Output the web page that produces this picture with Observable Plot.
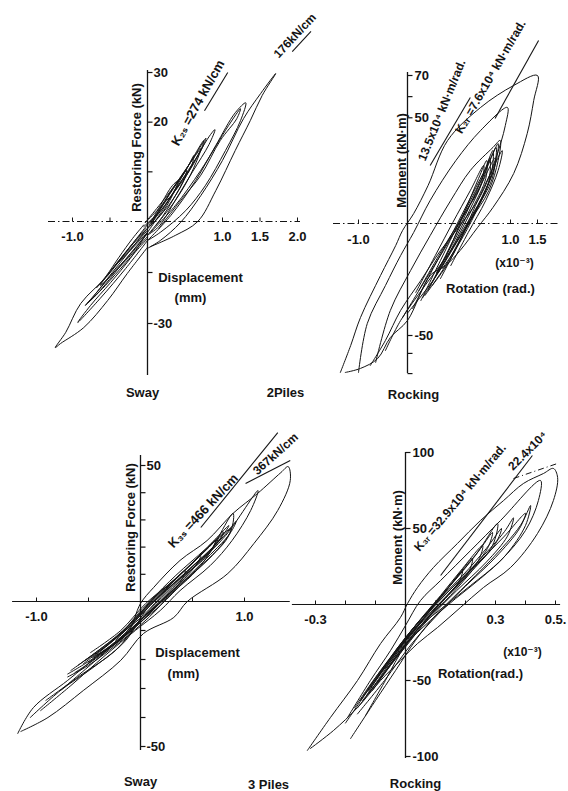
<!DOCTYPE html>
<html><head><meta charset="utf-8">
<script src="https://cdn.jsdelivr.net/npm/d3@7"></script>
<script src="https://cdn.jsdelivr.net/npm/@observablehq/plot@0.6"></script>
<style>
html,body{margin:0;padding:0;background:#fff;}
#page{position:relative;width:568px;height:791px;overflow:hidden;background:#fff;}
#page svg{position:absolute;overflow:visible;background:transparent;}
</style></head><body><div id="page"></div>
<script>
// ---------------- DATA ----------------
// Panel 1: Sway, 2 piles  (x: displacement mm, y: restoring force kN)
const sway2Loops = [
  [[0,-7.9],[0.17,-5.6],[0.44,-0.3],[0.71,5.2],[1.0,12.3],[1.28,20.7],[1.51,25.8],[1.71,29.8],[1.53,25.4],[1.37,20.3],[1.17,14.3],[0.91,6.2],[0.67,0],[0.37,-4.1],[0.04,-7.4]],
  [[0,-5.6],[0.31,1.2],[0.64,8.2],[0.91,15.3],[1.17,21.9],[1.31,23.9],[1.24,20.3],[1.04,14.3],[0.77,7.2],[0.51,2.2],[0.17,-3.2],[0,-5.6]],
  [[0.04,-3.2],[0.37,3.2],[0.71,10.3],[1.08,19.3],[1.24,22.7],[1.19,20.7],[0.97,16.3],[0.71,9.3],[0.44,4.2],[0.15,-2.1]],
  [[0,-3.2],[0.24,3.2],[0.51,10.3],[0.75,16.3],[0.71,14.3],[0.57,9.3],[0.37,4.2],[0.11,-1.2]],
  [[0,-2.1],[0.17,3.2],[0.33,7.2],[0.41,8.2],[0.33,5.2],[0.17,1.2],[0,-2.1]],
  [[0.04,-1.2],[0.24,4.2],[0.44,8.7],[0.52,10.3],[0.47,7.8],[0.28,3.2],[0.04,-1.2]],
  [[-0.03,-0.3],[0.31,6.2],[0.64,13.3],[0.71,14.7],[0.64,12.3],[0.37,6.2],[-0.03,-0.3]],
  [[0.05,-0.5],[0.2,3.5],[0.4,8],[0.6,12.5],[0.78,16.8],[0.72,14.5],[0.55,10.5],[0.35,5.8],[0.12,1],[0.05,-0.5]],
  [[-0.05,-1.5],[0.15,2],[0.33,6.5],[0.5,10],[0.62,13.3],[0.58,11],[0.42,7.5],[0.22,3],[0,-1]],
  [[0,-4],[0.2,1],[0.42,6.5],[0.62,12],[0.84,17.5],[0.9,18.5],[0.82,15.5],[0.6,10],[0.38,4.5],[0.15,-1.5],[0,-4]],
  [[0,-7.6],[-0.27,-15.3],[-0.53,-23.2],[-0.85,-31.2],[-1.16,-35.9],[-1.23,-37.1],[-1.09,-32.6],[-0.89,-24.1],[-0.53,-15.9],[-0.27,-8.5],[0,-0.9]],
  [[0,-5.6],[-0.29,-13.8],[-0.63,-22.6],[-0.93,-29.7],[-0.76,-24.7],[-0.49,-17.9],[-0.23,-10.9],[0,-3.2]],
  [[0,-5],[-0.29,-12.1],[-0.56,-18.8],[-0.83,-24.7],[-0.69,-21.2],[-0.43,-14.4],[-0.16,-7.9],[0,-3.2]],
  [[0,-3.2],[-0.23,-8.5],[-0.43,-12.9],[-0.29,-9.1],[-0.09,-4.1],[0,-2.1]],
  [[0,-4.4],[-0.29,-11.5],[-0.63,-18.8],[-0.43,-12.9],[-0.16,-6.5],[0,-2.6]],
  [[-0.05,-1],[-0.2,-5],[-0.38,-10.5],[-0.55,-16],[-0.68,-19.5],[-0.6,-17.5],[-0.4,-12],[-0.2,-6.5],[-0.02,-2]],
  [[-0.02,-2.5],[-0.25,-9],[-0.47,-15],[-0.72,-22],[-0.8,-24],[-0.68,-21.5],[-0.45,-15.5],[-0.22,-9.2],[0,-3.5]]
];
const sway2XTicks = [-1, -0.5, 1, 1.5, 2];
const sway2XLabelVals = [-1, 1, 1.5, 2];
const sway2XLabels = ["-1.0", "1.0", "1.5", "2.0"];
const sway2YTicks = [30, 20, 10, -15, -30];
const sway2YLabelVals = [30, 20, -30];
const sway2YLabels = ["30", "20", "-30"];
const sway2K = [{x1: 0.76, y1: 22.3, x2: 1.07, y2: 30}, {x1: 1.93, y1: 34.2, x2: 2.18, y2: 38.3}];

// Panel 2: Rocking, 2 piles (x: rotation x10^-3 rad, y: moment kN·m)
const rock2Loops = [
  [[-1.37,-66.5],[-1.16,-54.5],[-0.96,-42],[-0.55,-23.2],[-0.24,-9.8],[-0.1,-3.1],[0.06,4.7],[0.2,18],[0.39,39.3],[0.71,54.9],[1.06,65.3],[1.5,70],[1.43,58.2],[1.31,42.6],[1.06,23.7],[0.83,7.6],[0.68,-1.8],[0.51,-12.1],[0.37,-18.8],[0.22,-23.2],[0,-43.3],[-0.35,-50.9],[-0.61,-60.3],[-0.96,-64.7],[-1.27,-66.5]],
  [[-1.0,-66.5],[-0.82,-44.6],[-0.45,-27.7],[-0.14,-14.3],[0.06,-4],[0.22,10.9],[0.47,29.8],[0.71,44],[0.97,54.9],[0.95,46.4],[0.85,29.8],[0.71,13.2],[0.51,-0.9],[0.32,-12.1],[0.13,-25.4],[-0.14,-38.8],[-0.45,-52.2],[-0.76,-63.4]],
  [[-0.65,-62],[-0.35,-38.8],[0.03,-21],[0.22,-5.4],[0.42,10.9],[0.61,25.1],[0.83,36],[0.9,39.3],[0.88,29.8],[0.79,15.6],[0.61,1.4],[0.42,-12.1],[0.17,-27.7],[-0.14,-43.3],[-0.45,-56.7]],
  [[0.13,-34.4],[0.32,-16.5],[0.51,1.4],[0.71,20.3],[0.83,34.5],[0.81,22.7],[0.69,8.5],[0.53,-5.4],[0.37,-18.8],[0.17,-32.1]],
  [[0.2,-29.9],[0.37,-14.3],[0.56,3.8],[0.76,25.1],[0.88,37.8],[0.85,27.4],[0.73,13.2],[0.56,-3.1],[0.4,-17.4],[0.24,-27.7]],
  [[0.24,-26.3],[0.4,-12.1],[0.56,6.1],[0.69,21.3],[0.77,29.8],[0.76,21.3],[0.63,7.1],[0.47,-7.6],[0.3,-21.9]],
  [[0.08,-30.8],[0.27,-14.3],[0.44,0.5],[0.61,15.6],[0.74,27.4],[0.71,18],[0.56,5.2],[0.39,-7.6],[0.22,-21],[0.11,-29.9]],
  [[0.32,-24.6],[0.5,-8.5],[0.66,8.5],[0.81,24.1],[0.92,34.5],[0.88,25.1],[0.76,10.9],[0.59,-4],[0.42,-18.8]],
  [[0.05,-38],[0.25,-20],[0.45,-3],[0.62,13],[0.78,28],[0.86,36],[0.84,26],[0.72,12],[0.55,-2],[0.36,-17],[0.15,-33]],
  [[-0.1,-42],[0.15,-27],[0.35,-12],[0.55,4],[0.72,19],[0.85,31],[0.82,21],[0.66,6],[0.47,-9],[0.27,-24],[0,-40]],
  [[0.28,-22],[0.45,-8],[0.6,6],[0.73,20],[0.8,31],[0.79,20],[0.66,5],[0.5,-9],[0.34,-20]]
];
const rock2XTicks = [-1, 1, 1.5];
const rock2XLabelVals = [-1, 1, 1.5];
const rock2XLabels = ["-1.0", "1.0", "1.5"];
const rock2YTicks = [70, 60, 50, -50, -58, -67];
const rock2YLabelVals = [70, 50, -50];
const rock2YLabels = ["70", "50", "-50"];
const rock2K = [{x1: 0.22, y1: 27.4, x2: 0.61, y2: 59.6}, {x1: 0.85, y1: 49.7, x2: 1.52, y2: 86.6}];

// Panel 3: Sway, 3 piles
const sway3Loops = [
  [[-1.18,-45.5],[-1.03,-36.6],[-0.7,-27.2],[-0.38,-17.9],[-0.125,-11],[0,-0.7],[0.125,5.1],[0.38,15.1],[0.64,22.4],[0.89,32.4],[1.125,39.7],[1.35,47.4],[1.42,49.6],[1.44,44.5],[1.32,33.5],[1.09,21.3],[0.84,10.3],[0.45,0],[0.32,-5.5],[0.03,-11],[-0.19,-20.3],[-0.55,-30.7],[-0.89,-40],[-1.15,-44.8]],
  [[-1.06,-40],[-0.77,-30.7],[-0.43,-22.1],[-0.14,-13.4],[0.05,-3.1],[0.24,4],[0.53,13.2],[0.82,24.3],[1.13,40.8],[1.06,33.5],[0.88,22.4],[0.67,13.2],[0.38,4],[0.19,-3.1],[-0.05,-10],[-0.34,-18.6],[-0.67,-29],[-0.96,-37.6]],
  [[-0.91,-34.1],[-0.58,-25.5],[-0.24,-16.9],[0,-6.6],[0.24,1.1],[0.58,13.2],[0.89,32.4],[0.87,26.1],[0.69,16.9],[0.43,7.7],[0.19,-1.4],[-0.1,-10],[-0.43,-20.3],[-0.77,-30.7]],
  [[-0.67,-23.8],[-0.38,-16.2],[-0.1,-8.3],[0.1,0.4],[0.34,9.6],[0.63,19.5],[0.85,27.9],[0.79,24.3],[0.58,15.1],[0.34,5.9],[0.1,-3.8],[-0.14,-11.7],[-0.43,-19.7],[-0.63,-24.5]],
  [[-0.53,-20.3],[-0.24,-12.8],[0,-3.8],[0.24,4.8],[0.53,15.1],[0.72,22.4],[0.67,18],[0.43,9.6],[0.19,0.4],[-0.05,-8.3],[-0.31,-16.2],[-0.5,-21]],
  [[-0.38,-16.9],[-0.14,-9.3],[0.08,-1.4],[0.31,7],[0.58,16.9],[0.53,13.2],[0.29,3.3],[0.05,-4.8],[-0.19,-12.8],[-0.36,-17.6]],
  [[-0.24,-13.4],[0,-4.8],[0.19,2.2],[0.43,11.4],[0.38,7],[0.17,-0.7],[-0.05,-8.3],[-0.21,-13.4]],
  [[-0.48,-17.6],[-0.19,-10],[0.05,-0.7],[0.34,8.5],[0.67,20.6],[0.87,26.8],[0.82,22.4],[0.53,11.4],[0.24,1.5],[0,-7.2],[-0.27,-15.2],[-0.46,-19.3]],
  [[-0.6,-22],[-0.3,-14],[-0.05,-6],[0.15,2],[0.4,10.5],[0.66,20],[0.8,25.5],[0.74,21.5],[0.5,13],[0.25,4],[0.02,-5],[-0.25,-13],[-0.55,-21.5]],
  [[-0.45,-19],[-0.2,-11.5],[0.02,-2.5],[0.28,6.5],[0.55,16],[0.75,23.5],[0.7,20],[0.45,11],[0.2,1.5],[-0.02,-7],[-0.28,-15],[-0.42,-18.5]],
  [[-0.7,-25],[-0.45,-19.5],[-0.15,-11],[0.05,-2.5],[0.3,6],[0.6,16.5],[0.8,24],[0.92,29.5],[0.86,25],[0.6,14.5],[0.32,4],[0.08,-5.5],[-0.2,-14],[-0.5,-22],[-0.7,-26]]
];
const sway3XTicks = [-1, -0.5, 0.5, 1];
const sway3XLabelVals = [-1, 1];
const sway3XLabels = ["-1.0", "1.0"];
const sway3YTicks = [50, 40, 30, 20, 10, -10, -20, -30, -40, -50];
const sway3YLabelVals = [50, -50];
const sway3YLabels = ["50", "-50"];
const sway3K = [{x1: 0.58, y1: 27.2, x2: 1.32, y2: 62.1}, {x1: 1.01, y1: 43.4, x2: 1.44, y2: 51.8}];

// Panel 4: Rocking, 3 piles
const rock3Loops = [
  [[-0.327,-96],[-0.25,-74.3],[-0.16,-50],[-0.083,-25.7],[-0.017,-8.6],[0.007,0.7],[0.04,11.2],[0.093,24.3],[0.173,40.1],[0.25,55.3],[0.327,68.4],[0.393,79.6],[0.46,86.2],[0.493,89.5],[0.507,83.6],[0.493,68.4],[0.44,46.7],[0.35,24.3],[0.26,11.2],[0.183,-2],[0.107,-15.1],[0.04,-25.7],[-0.017,-36.8],[-0.083,-50],[-0.16,-67.8],[-0.24,-82.9],[-0.317,-94.7]],
  [[-0.193,-74.3],[-0.117,-50],[-0.05,-30.3],[0,-13.8],[0.05,2.6],[0.117,15.8],[0.217,35.5],[0.317,55.3],[0.45,81.6],[0.443,68.4],[0.4,48.7],[0.317,28.9],[0.217,12.5],[0.133,-0.7],[0.05,-13.8],[-0.017,-27],[-0.083,-43.4],[-0.15,-63.2]],
  [[-0.183,-88.2],[-0.1,-63.2],[-0.033,-43.4],[0.033,-23.7],[0.1,-7.2],[0.183,9.2],[0.283,28.9],[0.383,52],[0.417,65.1],[0.4,52],[0.333,32.2],[0.25,17.1],[0.167,3.9],[0.083,-10.5],[0,-27],[-0.067,-50],[-0.133,-73]],
  [[-0.15,-63.2],[-0.083,-44.7],[0,-23.7],[0.067,-7.2],[0.15,12.5],[0.233,32.2],[0.307,53.3],[0.29,38.8],[0.223,22.4],[0.15,5.9],[0.067,-10.5],[-0.017,-30.3],[-0.09,-50],[-0.143,-63.2]],
  [[-0.123,-56.6],[-0.05,-36.8],[0.017,-18.4],[0.09,-0.7],[0.177,19.1],[0.25,36.8],[0.29,47.4],[0.273,36.8],[0.2,19.1],[0.123,2.6],[0.043,-15.8],[-0.033,-35.5],[-0.11,-56.6]],
  [[-0.1,-50],[-0.033,-31.6],[0.033,-13.8],[0.117,5.9],[0.19,23.7],[0.257,38.8],[0.243,28.9],[0.17,12.5],[0.09,-5.3],[0.017,-23.7],[-0.05,-40.1],[-0.093,-51.3]],
  [[-0.067,-42.1],[0,-25],[0.077,-5.3],[0.157,14.5],[0.223,30.3],[0.21,21.1],[0.133,3.9],[0.05,-13.8],[-0.017,-30.3],[-0.06,-42.1]],
  [[-0.033,-30.3],[0.033,-13.8],[0.117,4.6],[0.19,22.4],[0.177,14.5],[0.1,-2],[0.023,-18.4],[-0.027,-30.3]],
  [[-0.13,-60],[-0.06,-38],[0.02,-17],[0.1,1],[0.19,19],[0.27,37],[0.32,50],[0.3,40],[0.22,22],[0.13,4],[0.04,-14],[-0.04,-35],[-0.12,-58]],
  [[-0.17,-68],[-0.1,-48],[-0.02,-28],[0.06,-9],[0.15,10],[0.25,30],[0.33,48],[0.36,57],[0.34,45],[0.27,28],[0.17,9],[0.08,-9],[-0.01,-29],[-0.09,-50],[-0.16,-68]],
  [[-0.2,-78],[-0.12,-55],[-0.04,-32],[0.05,-10],[0.14,8],[0.24,27],[0.33,45],[0.4,60],[0.38,50],[0.3,31],[0.2,12],[0.11,-6],[0.02,-26],[-0.07,-50],[-0.16,-72]]
];
const rock3XTicks = [-0.3, -0.2, -0.1, 0.1, 0.2, 0.3, 0.4, 0.5];
const rock3XLabelVals = [-0.3, 0.3, 0.5];
const rock3XLabels = ["-0.3", "0.3", "0.5."];
const rock3YTicks = [100, 50, -50, -100];
const rock3YLabelVals = [100, 50, -50, -100];
const rock3YLabels = ["100", "50", "-50", "-100"];
const rock3K = [{x1: 0.117, y1: 19.1, x2: 0.423, y2: 98}];
const rock3KDash = [{x1: 0.36, y1: 82.9, x2: 0.507, y2: 92.8}];

// Texts
const textsP1 = ["K₂ₛ =274 kN/cm", "176kN/cm", "Restoring Force (kN)", "Displacement", "(mm)", "Sway", "2Piles"];
const textsP2 = ["13.5x10⁴ kN·m/rad.", "K₂ᵣ =7.6x10⁴ kN·m/rad.", "Moment (kN·m)", "(x10⁻³)", "Rotation (rad.)", "Rocking"];
const textsP3 = ["K₃ₛ =466 kN/cm", "367kN/cm", "Restoring Force (kN)", "Displacement", "(mm)", "Sway", "3 Piles"];
const textsP4 = ["K₃ᵣ =32.9x10⁴ kN·m/rad.", "22.4x10⁴", "Moment (kN·m)", "(x10⁻³)", "Rotation(rad.)", "Rocking"];

// ---------------- DRAWING ----------------
const FONT = "'Liberation Sans', Arial, 'DejaVu Sans', sans-serif";
const INK = "#141414";
const tickUp = {draw(c) { c.moveTo(0, 0); c.lineTo(0, -4); }};
const tickRight = {draw(c) { c.moveTo(0, 0); c.lineTo(5, 0); }};

// The printed axes are not uniformly graduated (the graduation differs on each side
// of the origin); a piecewise-linear scale transform reproduces the printed axis.
function piecewise(values, offsets) {
  return d3.scaleLinear().domain(values).range(offsets);
}

function toTable(loops) {
  return loops.flatMap((pts, i) => pts.map(([x, y]) => ({loop: i, x, y})));
}

function panel(o) {
  const marks = [
    Plot.ruleY([0], {x1: o.xAxis[0], x2: o.xAxis[1], stroke: INK, strokeWidth: 1, strokeDasharray: o.xDash}),
    Plot.ruleX([0], {y1: o.yAxis[0], y2: o.yAxis[1], stroke: INK, strokeWidth: 1.3}),
    Plot.dot(o.xTicks, {x: d => d, y: 0, symbol: tickUp, stroke: INK, fill: "none", strokeWidth: 1}),
    Plot.dot(o.yTicks, {x: 0, y: d => d, symbol: tickRight, stroke: INK, fill: "none", strokeWidth: 1.2}),
    Plot.line(toTable(o.loops), {x: "x", y: "y", z: "loop", stroke: INK, strokeWidth: 1, curve: "catmull-rom"}),
    Plot.link(o.k, {x1: "x1", y1: "y1", x2: "x2", y2: "y2", stroke: INK, strokeWidth: 1.1}),
    Plot.text(o.xLabelVals, {x: d => d, y: 0, text: (d, i) => o.xLabels[i], dy: o.xLabelDy, fontSize: 13, fontWeight: "bold", fill: INK, textAnchor: "middle"}),
    Plot.text(o.yLabelVals, {x: 0, y: d => d, text: (d, i) => o.yLabels[i], dx: o.yLabelDx, fontSize: 13, fontWeight: "bold", fill: INK, textAnchor: "start"})
  ];
  if (o.kDash) marks.push(Plot.link(o.kDash, {x1: "x1", y1: "y1", x2: "x2", y2: "y2", stroke: INK, strokeWidth: 1, strokeDasharray: "6,3,1,3"}));
  o.texts.forEach((t, i) => {
    const L = o.textLayout[i];
    marks.push(Plot.text([t], {frameAnchor: "top-left", dx: L[0], dy: L[1], rotate: L[2], text: d => d,
      fontSize: L[3], fontWeight: "bold", fill: INK, textAnchor: "middle"}));
  });
  const xs = {domain: o.xDomain, range: [0, o.width], axis: null};
  if (o.xTransform) xs.transform = o.xTransform;
  const ys = {domain: o.yDomain, range: [o.height, 0], axis: null};
  if (o.yTransform) ys.transform = o.yTransform;
  const svg = Plot.plot({
    width: o.width, height: o.height, margin: 0,
    x: xs, y: ys,
    style: {fontFamily: FONT, background: "transparent", overflow: "visible"},
    marks
  });
  svg.style.left = o.left + "px";
  svg.style.top = o.top + "px";
  document.getElementById("page").appendChild(svg);
}

// Panel 1 — origin at (147, 221) of its frame
panel({
  left: 0, top: 0, width: 330, height: 400,
  xDomain: [-147 / 75, (330 - 147) / 75],
  yTransform: piecewise([-30, 0, 30], [-102, 0, 149]), yDomain: [-(400 - 221), 221],
  xAxis: [-1.32, 2.04], yAxis: [-45.3, 30.4], xDash: "7,3,1.5,3",
  loops: sway2Loops, k: sway2K,
  xTicks: sway2XTicks, yTicks: sway2YTicks,
  xLabelVals: sway2XLabelVals, xLabels: sway2XLabels, xLabelDy: 15,
  yLabelVals: sway2YLabelVals, yLabels: sway2YLabels, yLabelDx: 6,
  texts: textsP1,
  textLayout: [[193, 100, -61, 13], [291, 32, -47, 12], [131, 147, -90, 13], [200, 272, 0, 13], [190, 292, 0, 13], [142, 387, 0, 13], [285, 387, 0, 13]]
});

// Panel 2 — origin at (77, 223) of its frame
panel({
  left: 330, top: 0, width: 238, height: 400,
  xTransform: piecewise([-1, 0, 1, 1.5], [-49, 0, 103, 130]), xDomain: [-77, 238 - 77],
  yTransform: piecewise([-50, 0, 70], [-112, 0, 148]), yDomain: [-(400 - 223), 223],
  xAxis: [-1.51, 1.93], yAxis: [-67, 71.4], xDash: "7,3,1.5,3",
  loops: rock2Loops, k: rock2K,
  xTicks: rock2XTicks, yTicks: rock2YTicks,
  xLabelVals: rock2XLabelVals, xLabels: rock2XLabels, xLabelDy: 16,
  yLabelVals: rock2YLabelVals, yLabels: rock2YLabels, yLabelDx: 7,
  texts: textsP2,
  textLayout: [[107, 108, -68, 12], [156, 74, -60, 12], [66, 160, -90, 13], [184, 258, 0, 12], [160, 283, 0, 13], [83, 389, 0, 13]]
});

// Panel 3 — origin at (140, 201) of its frame
panel({
  left: 0, top: 400, width: 300, height: 391,
  xDomain: [-140 / 104, (300 - 140) / 104],
  yTransform: piecewise([-50, 0, 50], [-145, 0, 136]), yDomain: [-(391 - 201), 201],
  xAxis: [-1.23, 1.44], yAxis: [-51.4, 53.7], xDash: null,
  loops: sway3Loops, k: sway3K,
  xTicks: sway3XTicks, yTicks: sway3YTicks,
  xLabelVals: sway3XLabelVals, xLabels: sway3XLabels, xLabelDy: 15,
  yLabelVals: sway3YLabelVals, yLabels: sway3YLabels, yLabelDx: 6,
  texts: textsP3,
  textLayout: [[199, 107, -47, 13], [272, 50, -42, 12], [125, 127, -90, 13], [197, 247, 0, 13], [183, 268, 0, 13], [140, 376, 0, 13], [268, 379, 0, 13]]
});

// Panel 4 — origin at (115, 204) of its frame
panel({
  left: 290, top: 400, width: 278, height: 391,
  xDomain: [-115 / 300, (278 - 115) / 300],
  yDomain: [-123.03, 134.21],
  xAxis: [-0.377, 0.517], yAxis: [-101.3, 100], xDash: null,
  loops: rock3Loops, k: rock3K, kDash: rock3KDash,
  xTicks: rock3XTicks, yTicks: rock3YTicks,
  xLabelVals: rock3XLabelVals, xLabels: rock3XLabels, xLabelDy: 15,
  yLabelVals: rock3YLabelVals, yLabels: rock3YLabels, yLabelDx: 7,
  texts: textsP4,
  textLayout: [[166, 94, -50, 12], [234, 47, -45, 12], [102, 137, -90, 13], [232, 247, 0, 12], [190, 268, 0, 13], [125, 378, 0, 13]]
});
</script></body></html>
